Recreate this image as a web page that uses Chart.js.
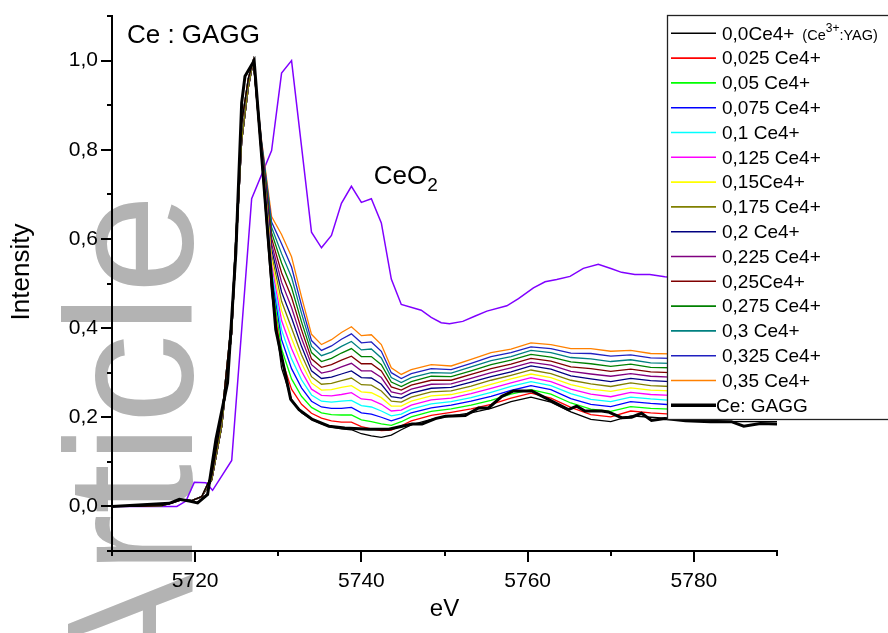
<!DOCTYPE html>
<html>
<head>
<meta charset="utf-8">
<title>Ce : GAGG XANES</title>
<script src="https://cdn.jsdelivr.net/npm/chart.js@4.4.1/dist/chart.umd.min.js"></script>
<style>
  html, body { margin: 0; padding: 0; background: #fff; }
  #wrap { width: 888px; height: 633px; }
</style>
</head>
<body>
<div id="wrap"><canvas id="xanes" width="888" height="633"></canvas></div>
<script>
// energy grid (eV) of the Ce4+ mixture spectra
const energy = [5710, 5713, 5716, 5717.2, 5718.4, 5719.6, 5720.8, 5722.0, 5723.2, 5724.4, 5725.6, 5726.4, 5727.0,
  5728.0, 5729.2, 5730.4, 5731.6, 5732.8, 5734.0, 5735.2, 5736.4, 5737.6, 5738.8, 5740.0, 5741.2, 5742.4, 5743.6, 5744.8, 5746.0,
  5748.4, 5750.8, 5753.2, 5755.6, 5758.0, 5760.4, 5762.8, 5765.2, 5767.6, 5770.0, 5772.4, 5774.8, 5777.2, 5780.8, 5784.4, 5790];

const ce0000 = [0, 0, 0.002, 0.008, 0.015, 0.013, 0.022, 0.07, 0.2, 0.42, 0.86, 0.96, 1.0,
  .78, .48, .31, .24, .21, .195, .185, .178, .174, .172, .163, .158, .155, .16, .172, .183,
  .195, .203, .21, .22, .235, .245, .234, .212, .195, .19, .203, .2, .197, .195, .19, .19];
const ce0025 = [0, 0, 0.002, 0.008, 0.015, 0.013, 0.022, 0.07, 0.2, 0.42, 0.86, 0.96, 1.0,
  .783, .492, .331, .263, .229, .209, .198, .192, .189, .189, .179, .174, .17, .171, .181, .192,
  .204, .211, .219, .229, .243, .254, .243, .222, .206, .201, .214, .21, .207, .205, .201, .2];
const ce0050 = [0, 0, 0.002, 0.008, 0.015, 0.013, 0.022, 0.07, 0.2, 0.42, 0.86, 0.96, 1.0,
  .786, .504, .353, .286, .247, .222, .21, .206, .205, .205, .194, .19, .185, .182, .19, .201,
  .213, .219, .227, .238, .252, .262, .252, .232, .218, .213, .224, .22, .218, .216, .211, .211];
const ce0075 = [0, 0, 0.002, 0.008, 0.015, 0.013, 0.022, 0.07, 0.2, 0.42, 0.86, 0.96, 1.0,
  .789, .516, .374, .309, .266, .236, .223, .22, .22, .222, .21, .207, .2, .192, .199, .21,
  .221, .227, .236, .247, .26, .271, .262, .242, .229, .224, .235, .231, .228, .226, .222, .221];
const ce0100 = [0, 0, 0.002, 0.008, 0.015, 0.013, 0.022, 0.07, 0.2, 0.42, 0.86, 0.96, 1.0,
  .791, .529, .396, .331, .284, .25, .236, .234, .236, .238, .226, .223, .214, .203, .207, .218,
  .23, .235, .244, .256, .269, .28, .271, .253, .24, .235, .245, .241, .238, .236, .232, .231];
const ce0125 = [0, 0, 0.002, 0.008, 0.015, 0.013, 0.022, 0.07, 0.2, 0.42, 0.86, 0.96, 1.0,
  .794, .541, .417, .354, .303, .263, .249, .248, .251, .255, .241, .239, .229, .214, .216, .227,
  .239, .243, .253, .265, .277, .289, .28, .263, .252, .246, .256, .251, .249, .247, .243, .242];
const ce0150 = [0, 0, 0.002, 0.008, 0.015, 0.013, 0.022, 0.07, 0.2, 0.42, 0.86, 0.96, 1.0,
  .797, .553, .439, .377, .321, .277, .261, .262, .267, .271, .257, .255, .244, .225, .225, .236,
  .248, .251, .261, .274, .286, .297, .289, .273, .263, .258, .266, .261, .259, .257, .253, .252];
const ce0175 = [0, 0, 0.002, 0.008, 0.015, 0.013, 0.022, 0.06, 0.18, 0.39, 0.82, 0.94, 1.0,
  .8, .565, .46, .4, .34, .291, .274, .276, .282, .288, .273, .272, .259, .236, .234, .245,
  .257, .259, .27, .283, .294, .306, .298, .283, .275, .269, .277, .271, .269, .267, .264, .262];
const ce0200 = [0, 0, 0.002, 0.008, 0.015, 0.013, 0.022, 0.06, 0.18, 0.39, 0.82, 0.94, 1.0,
  .803, .577, .481, .423, .359, .304, .287, .29, .297, .304, .289, .288, .274, .246, .243, .254,
  .265, .267, .279, .291, .302, .315, .308, .293, .286, .28, .287, .282, .28, .278, .275, .273];
const ce0225 = [0, 0, 0.002, 0.008, 0.015, 0.013, 0.022, 0.06, 0.18, 0.39, 0.82, 0.94, 1.0,
  .806, .589, .503, .446, .377, .318, .299, .304, .313, .321, .304, .304, .289, .257, .252, .263,
  .274, .275, .287, .3, .311, .323, .317, .303, .297, .292, .298, .292, .29, .288, .285, .283];
const ce0250 = [0, 0, 0.002, 0.008, 0.015, 0.013, 0.022, 0.06, 0.18, 0.39, 0.82, 0.94, 1.0,
  .809, .601, .524, .469, .396, .331, .312, .318, .328, .337, .32, .32, .304, .268, .261, .272,
  .283, .283, .296, .309, .319, .332, .326, .313, .309, .303, .308, .302, .3, .299, .296, .294];
const ce0275 = [0, 0, 0.002, 0.008, 0.015, 0.013, 0.022, 0.06, 0.18, 0.39, 0.82, 0.94, 1.0,
  .811, .614, .546, .491, .414, .345, .325, .332, .344, .354, .336, .336, .318, .279, .269, .28,
  .292, .291, .304, .318, .328, .341, .335, .324, .32, .314, .319, .312, .311, .309, .306, .304];
const ce0300 = [0, 0, 0.002, 0.008, 0.015, 0.013, 0.022, 0.06, 0.18, 0.39, 0.82, 0.94, 1.0,
  .814, .626, .567, .514, .433, .359, .338, .346, .359, .37, .351, .353, .333, .289, .278, .289,
  .3, .299, .313, .327, .336, .35, .345, .334, .331, .325, .329, .322, .321, .319, .317, .314];
const ce0325 = [0, 0, 0.002, 0.008, 0.015, 0.013, 0.022, 0.06, 0.18, 0.39, 0.82, 0.94, 1.0,
  .817, .638, .589, .537, .451, .372, .35, .36, .375, .387, .367, .369, .348, .3, .287, .298,
  .309, .307, .321, .336, .345, .358, .354, .344, .343, .337, .34, .333, .332, .33, .327, .325];
const ce0350 = [0, 0, 0.002, 0.008, 0.015, 0.013, 0.022, 0.06, 0.18, 0.39, 0.82, 0.94, 1.0,
  .82, .65, .61, .56, .47, .386, .363, .374, .39, .403, .383, .385, .363, .311, .296, .307,
  .318, .315, .33, .345, .353, .367, .363, .354, .354, .348, .35, .343, .342, .34, .338, .335];

// Ce:GAGG sample, own energy points
const gaggEnergy = [5710, 5716.9, 5718.1, 5719.3, 5720.3, 5721.5, 5722.5, 5723.9, 5724.9, 5725.6, 5726.0, 5727.1,
  5728.7, 5729.7, 5731.5, 5732.5, 5734.1, 5736.1, 5738.0, 5740.9, 5743.3, 5744.9, 5746.1, 5747.3, 5748.9, 5750.1,
  5752.5, 5754.1, 5755.3, 5756.9, 5758.3, 5760.5, 5762.9, 5764.9, 5765.9, 5766.9, 5768.9, 5769.7, 5771.3, 5772.5,
  5773.7, 5774.9, 5776.5, 5779, 5782, 5784.5, 5786, 5788, 5790];
const gaggIntensity = [0, 0.007, 0.016, 0.012, 0.008, 0.027, 0.15, 0.277, 0.569, 0.905, 0.965, 1.0,
  0.621, 0.397, 0.24, 0.217, 0.195, 0.18, 0.176, 0.173, 0.173, 0.18, 0.185, 0.185, 0.197, 0.202,
  0.204, 0.221, 0.221, 0.247, 0.259, 0.259, 0.236, 0.217, 0.225, 0.214, 0.214, 0.212, 0.199, 0.2,
  0.209, 0.193, 0.197, 0.192, 0.19, 0.19, 0.18, 0.186, 0.185];

// CeO2 reference
const ceo2Energy = [5710, 5717.8, 5718.9, 5719.9, 5721.3, 5722.1, 5724.4, 5726.8, 5729.2, 5730.4, 5731.6, 5734.0,
  5735.2, 5736.4, 5737.6, 5738.8, 5740.0, 5741.2, 5742.4, 5743.6, 5744.8, 5747.2, 5748.4, 5749.6, 5750.6, 5752.2,
  5753.7, 5755.1, 5757.5, 5758.9, 5760.7, 5762.1, 5763.5, 5765.1, 5766.7, 5768.5, 5770.1, 5771.3, 5772.9, 5774.7,
  5776.5, 5780, 5785, 5790];
const ceo2Intensity = [0, 0, 0.012, 0.054, 0.053, 0.036, 0.103, 0.69, 0.798, 0.972, 1.0, 0.615,
  0.58, 0.608, 0.68, 0.718, 0.682, 0.69, 0.636, 0.51, 0.453, 0.44, 0.424, 0.412, 0.41, 0.415,
  0.427, 0.438, 0.45, 0.466, 0.49, 0.504, 0.509, 0.516, 0.534, 0.543, 0.533, 0.525, 0.52, 0.52,
  0.515, 0.51, 0.505, 0.5];

const seriesLabels = ["0,0Ce4+", "0,025 Ce4+", "0,05 Ce4+", "0,075 Ce4+", "0,1 Ce4+", "0,125 Ce4+", "0,15Ce4+",
  "0,175 Ce4+", "0,2 Ce4+", "0,225 Ce4+", "0,25Ce4+", "0,275 Ce4+", "0,3 Ce4+", "0,325 Ce4+", "0,35 Ce4+"];
const seriesValues = [ce0000, ce0025, ce0050, ce0075, ce0100, ce0125, ce0150, ce0175, ce0200, ce0225, ce0250,
  ce0275, ce0300, ce0325, ce0350];
const seriesColors = ["#000000", "#ff0000", "#00ff00", "#0000ff", "#00ffff", "#ff00ff", "#ffff00", "#808000",
  "#000080", "#800080", "#800000", "#008000", "#008080", "#2020c0", "#ff8000"];

const FONT = '"Liberation Sans", Arial, Helvetica, sans-serif';

function toPoints(xs, ys) {
  return xs.map((e, k) => ({ x: e, y: ys[k] }));
}

const datasets = seriesValues.map((vals, i) => ({
  label: seriesLabels[i],
  data: toPoints(energy, vals),
  borderColor: seriesColors[i],
  borderWidth: 1.3,
  inLegend: true,
  legendWidth: 1.6
}));
datasets.push({
  label: "Ce: GAGG",
  data: toPoints(gaggEnergy, gaggIntensity),
  borderColor: "#000000",
  borderWidth: 3,
  order: -1,
  inLegend: true,
  legendWidth: 3.5,
  thick: true
});
datasets.push({
  label: "CeO2",
  data: toPoints(ceo2Energy, ceo2Intensity),
  borderColor: "#8000ff",
  borderWidth: 1.5,
  inLegend: false
});

// grey "Article" stamp behind the plot
const stamp = {
  id: 'stamp',
  beforeDraw(chart) {
    const ctx = chart.ctx;
    ctx.save();
    ctx.translate(192, 194);
    ctx.rotate(-Math.PI / 2);
    ctx.font = '180px ' + FONT;
    ctx.fillStyle = '#b3b3b3';
    ctx.textAlign = 'right';
    ctx.textBaseline = 'alphabetic';
    ctx.fillText('Article', 0, 0);
    ctx.restore();
  }
};

// major / minor tick marks, outward
const tickMarks = {
  id: 'tickMarks',
  afterDraw(chart) {
    const { ctx, scales: { x, y } } = chart;
    ctx.save();
    ctx.strokeStyle = '#000';
    ctx.lineWidth = 2;
    ctx.beginPath();
    x.ticks.forEach(t => {
      const px = Math.round(x.getPixelForValue(t.value));
      const len = t.label ? 11 : 5;
      ctx.moveTo(px, x.top); ctx.lineTo(px, x.top + len);
    });
    y.ticks.forEach(t => {
      const py = Math.round(y.getPixelForValue(t.value));
      const len = t.label ? 11 : 5;
      ctx.moveTo(y.right, py); ctx.lineTo(y.right - len, py);
    });
    ctx.stroke();
    ctx.restore();
  }
};

// labels written on the plot
const plotText = {
  id: 'plotText',
  afterDatasetsDraw(chart) {
    const { ctx, scales: { x, y } } = chart;
    ctx.save();
    ctx.fillStyle = '#000';
    ctx.textBaseline = 'alphabetic';
    ctx.font = '26px ' + FONT;
    ctx.fillText('Ce : GAGG', x.getPixelForValue(5711.8), y.getPixelForValue(1.04));
    const cx = x.getPixelForValue(5741.5), cy = y.getPixelForValue(0.724);
    ctx.fillText('CeO', cx, cy);
    const w = ctx.measureText('CeO').width;
    ctx.font = '19px ' + FONT;
    ctx.fillText('2', cx + w, cy + 7);
    // y axis title
    ctx.translate(22, 272);
    ctx.rotate(-Math.PI / 2);
    ctx.font = '26px ' + FONT;
    ctx.textAlign = 'center';
    ctx.textBaseline = 'middle';
    ctx.fillText('Intensity', 0, 0);
    ctx.restore();
  }
};

// boxed legend sitting over the right of the plot
const seriesLegend = {
  id: 'seriesLegend',
  afterDraw(chart) {
    const ctx = chart.ctx;
    const items = chart.data.datasets.filter(d => d.inLegend);
    ctx.save();
    ctx.fillStyle = '#fff';
    ctx.fillRect(667.5, 15.5, 240, 404);
    ctx.strokeStyle = '#222';
    ctx.lineWidth = 1.3;
    ctx.strokeRect(667.5, 15.5, 240, 404);
    items.forEach((d, i) => {
      const ly = 33.3 + i * 24.8;
      ctx.strokeStyle = d.borderColor;
      ctx.lineWidth = d.legendWidth;
      ctx.beginPath();
      ctx.moveTo(671, ly); ctx.lineTo(716, ly);
      ctx.stroke();
      ctx.fillStyle = '#000';
      ctx.font = '19px ' + FONT;
      ctx.textBaseline = 'middle';
      const tx = d.thick ? 716 : 722;
      ctx.fillText(d.label, tx, ly + 1);
      if (i === 0) {
        let nx = tx + ctx.measureText(d.label).width + 8;
        ctx.font = '14.5px ' + FONT;
        ctx.fillText('(Ce', nx, ly + 3);
        nx += ctx.measureText('(Ce').width;
        ctx.font = '12px ' + FONT;
        ctx.fillText('3+', nx, ly - 5);
        nx += ctx.measureText('3+').width;
        ctx.font = '14.5px ' + FONT;
        ctx.fillText(':YAG)', nx, ly + 3);
      }
    });
    ctx.restore();
  }
};

new Chart(document.getElementById('xanes'), {
  type: 'line',
  data: { datasets: datasets },
  options: {
    responsive: false,
    animation: false,
    devicePixelRatio: 1,
    layout: { padding: { top: 16, right: 111, left: 0, bottom: 0 } },
    elements: { point: { radius: 0 }, line: { tension: 0, fill: false } },
    plugins: { legend: { display: false }, tooltip: { enabled: false } },
    scales: {
      x: {
        type: 'linear',
        min: 5710,
        max: 5790,
        grid: { display: false, drawTicks: false },
        border: { display: true, color: '#000', width: 2 },
        ticks: {
          stepSize: 10,
          padding: 18,
          color: '#000',
          font: { family: FONT, size: 21 },
          maxRotation: 0,
          autoSkip: false,
          callback: v => (Math.round(v) % 20 === 0 ? String(Math.round(v)) : '')
        },
        title: { display: true, text: 'eV', color: '#000', font: { family: FONT, size: 24 }, padding: { top: 0, bottom: 9 } },
        afterFit: s => { s.height = 82; s.paddingLeft = 0; s.paddingRight = 0; }
      },
      y: {
        min: -0.1,
        max: 1.1,
        grid: { display: false, drawTicks: false },
        border: { display: true, color: '#000', width: 2 },
        ticks: {
          stepSize: 0.1,
          padding: 14,
          color: '#000',
          font: { family: FONT, size: 21 },
          autoSkip: false,
          callback: v => {
            const k = Math.round(v * 10);
            if (k % 2 !== 0) return '';
            return (k / 10).toFixed(1).replace('.', ',');
          }
        },
        afterFit: s => { s.width = 112; s.paddingTop = 0; s.paddingBottom = 0; }
      }
    }
  },
  plugins: [stamp, tickMarks, plotText, seriesLegend]
});
</script>
</body>
</html>
